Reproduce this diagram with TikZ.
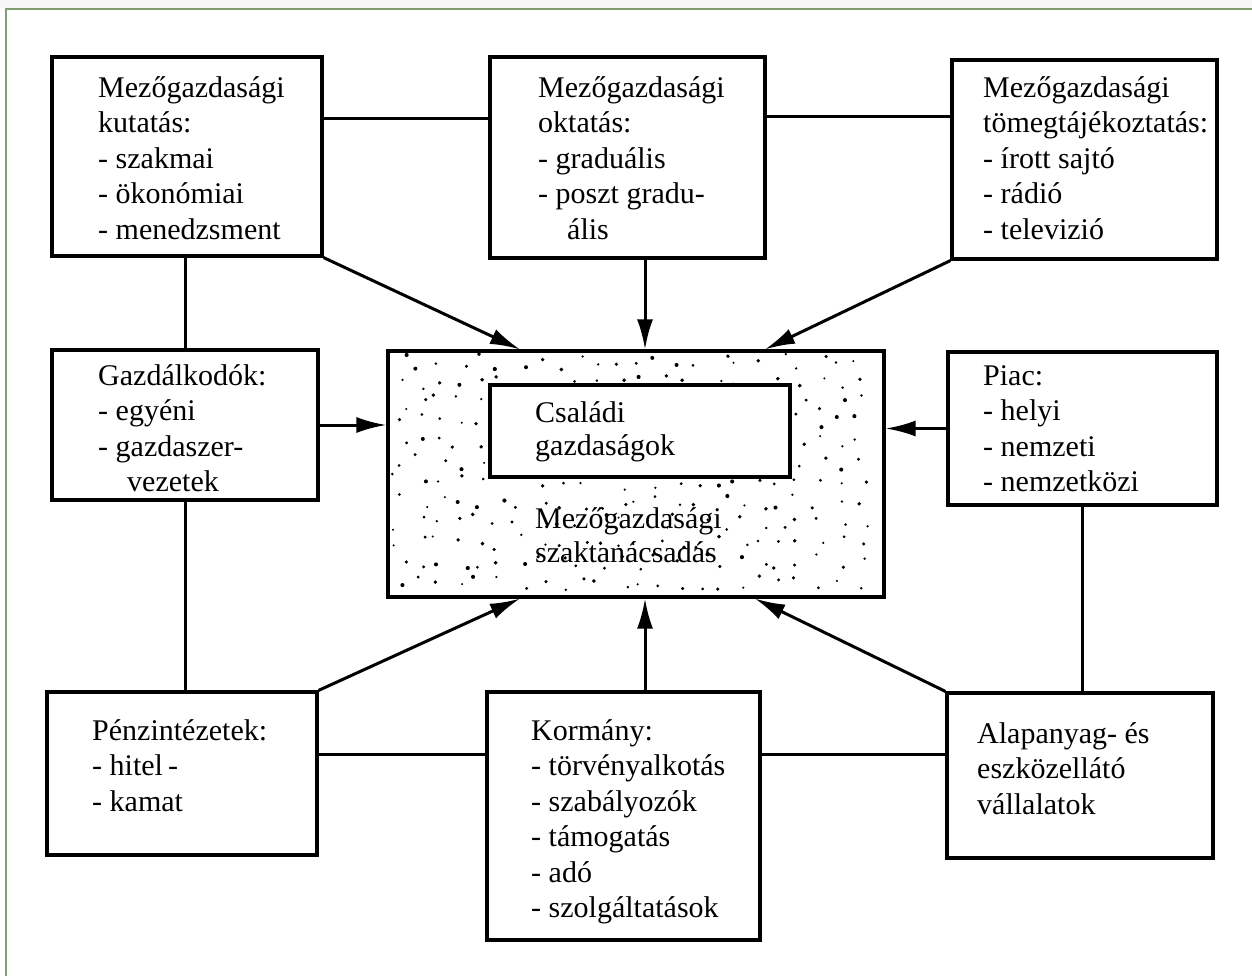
\documentclass[tikz,border=0pt]{standalone}
\usepackage{fontspec}
\setmainfont{Liberation Serif}
\usetikzlibrary{arrows.meta,calc}

\begin{document}
\begin{tikzpicture}[x=1pt,y=-1pt,
  box/.style={draw, line width=3.2pt, rectangle, inner sep=0pt},
  link/.style={line width=3pt},
  arr/.style={link, -{Latex[length=30pt,width=16pt]}},
  txt/.style={anchor=north west, inner sep=0pt, align=left,
              font=\fontsize{30}{35.5}\selectfont},
  frame/.style={draw={rgb,255:red,128;green,158;blue,112}, line width=2.8pt},
]
\useasboundingbox (0,0) rectangle (1252,976);

% page frame
\fill[gray!7] (0,0) rectangle (1252,8);
\draw[frame] (6,1000) -- (6,9) -- (1262,9);

% central advisory box with stippled fill (jittered grid of dots)
\node[box, minimum width=496pt, minimum height=246pt] (c) at (636,474) {};
\pgfmathsetseed{4711}
\foreach \gx in {400,420,...,870}{
  \foreach \gy in {362,382,...,582}{
    \pgfmathsetmacro\dx{\gx+rand*8}
    \pgfmathsetmacro\dy{\gy+rand*8}
    \pgfmathsetmacro\dr{1.1+rnd*1.0}
    \fill (\dx,\dy) circle[radius=\dr pt];
  }
}
\node[box, fill=white, minimum width=300pt, minimum height=92pt] (ci) at (640,431) {};

% surrounding boxes
\node[box, minimum width=270pt, minimum height=199pt] (b1) at (187,156.5) {};
\node[box, minimum width=275pt, minimum height=201pt] (b2) at (627.5,157.5) {};
\node[box, minimum width=265pt, minimum height=199pt] (b3) at (1084.5,159.5) {};
\node[box, minimum width=266pt, minimum height=150pt] (b4) at (185,425) {};
\node[box, minimum width=269pt, minimum height=153pt] (b5) at (1082.5,428.5) {};
\node[box, minimum width=270pt, minimum height=163pt] (b6) at (182,773.5) {};
\node[box, minimum width=273pt, minimum height=248pt] (b7) at (623.5,816) {};
\node[box, minimum width=266pt, minimum height=165pt] (b8) at (1080,775.5) {};

% texts
\node[txt] (t1) at (98,69) {\rule{0pt}{28pt}Mezőgazdasági\\kutatás:\\- szakmai\\- ökonómiai\\- menedzsment};
\node[txt] (t2) at (538,69) {\rule{0pt}{28pt}Mezőgazdasági\\oktatás:\\- graduális\\- poszt gradu-\\\hspace*{29pt}ális};
\node[txt] (t3) at (983,69) {\rule{0pt}{28pt}Mezőgazdasági\\tömegtájékoztatás:\\- írott sajtó\\- rádió\\- televizió};
\node[txt] (t4) at (98,357) {\rule{0pt}{28pt}Gazdálkodók:\\- egyéni\\- gazdaszer-\\\hspace*{29pt}vezetek};
\node[txt] (t5) at (983,357) {\rule{0pt}{28pt}Piac:\\- helyi\\- nemzeti\\- nemzetközi};
\node[txt, font=\fontsize{30}{33}\selectfont] (tci) at (535,394) {\rule{0pt}{28pt}Családi\\gazdaságok};
\node[txt, font=\fontsize{30}{34}\selectfont] (tc) at (535,500) {\rule{0pt}{28pt}Mezőgazdasági\\szaktanácsadás};
\node[txt] (t6) at (92,712) {\rule{0pt}{28pt}Pénzintézetek:\\- hitel\,-\\- kamat};
\node[txt] (t7) at (531,712) {\rule{0pt}{28pt}Kormány:\\- törvényalkotás\\- szabályozók\\- támogatás\\- adó\\- szolgáltatások};
\node[txt] (t8) at (977,715) {\rule{0pt}{28pt}Alapanyag- és\\eszközellátó\\vállalatok};

% plain links between neighbouring boxes
\draw[link] ([yshift=-63pt]b1.north east) -- ([yshift=-63pt]b1.north east -| b2.west);
\draw[link] ([yshift=-61pt]b2.north east) -- ([yshift=-61pt]b2.north east -| b3.west);
\draw[link] (b4.north) -- (b4.north |- b1.south);
\draw[link] (b4.south) -- (b4.south |- b6.north);
\draw[link] (b5.south) -- (b5.south |- b8.north);
\draw[link] ([yshift=-64pt]b7.north west) -- ([yshift=-64pt]b7.north west -| b6.east);
\draw[link] ([yshift=-64pt]b7.north east) -- ([yshift=-64pt]b7.north east -| b8.west);

% arrows into the advisory box
\draw[arr] (b1.south east) -- ([xshift=-116pt]c.north);
\draw[arr] ([xshift=9pt]c.north |- b2.south) -- ([xshift=9pt]c.north);
\draw[arr] (b3.south west) -- ([xshift=129pt]c.north);
\draw[arr] (b4.east) -- (b4.east -| c.west);
\draw[arr] (b5.west) -- (b5.west -| c.east);
\draw[arr] (b6.north east) -- ([xshift=-116pt]c.south);
\draw[arr] ([xshift=9pt]c.south |- b7.north) -- ([xshift=9pt]c.south);
\draw[arr] (b8.north west) -- ([xshift=119pt]c.south);
\end{tikzpicture}
\end{document}
